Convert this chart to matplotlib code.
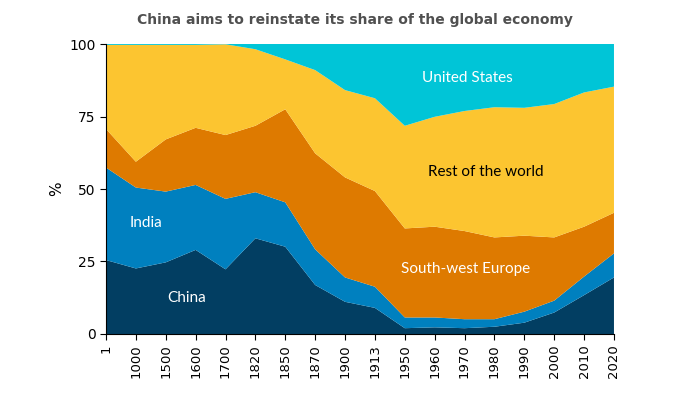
import numpy as np
import matplotlib
matplotlib.use("Agg")
from matplotlib import pyplot as plt

years = ["1", "1000", "1500", "1600", "1700", "1820", "1850", "1870", "1900", "1913",
         "1950", "1960", "1970", "1980", "1990", "2000", "2010", "2020"]

# cumulative tops (%)
china_top = [25.5, 22.6, 24.7, 29.0, 22.3, 33.0, 30.1, 16.9, 11.1, 9.0,
             2.0, 2.3, 2.0, 2.5, 3.9, 7.4, 13.4, 19.5]
india_top = [57.4, 50.5, 49.1, 51.4, 46.6, 48.9, 45.4, 29.2, 19.5, 16.3,
             5.7, 5.7, 5.1, 5.1, 7.7, 11.5, 19.8, 27.8]
swe_top = [70.7, 59.4, 67.1, 71.1, 68.6, 71.8, 77.5, 62.3, 54.0, 49.3,
           36.4, 37.0, 35.5, 33.3, 33.9, 33.3, 37.0, 41.8]
row_top = [99.7, 99.7, 99.7, 99.7, 99.9, 98.2, 94.7, 91.0, 84.1, 81.3,
           71.8, 74.9, 76.9, 78.2, 78.0, 79.3, 83.3, 85.3]

china = np.array(china_top)
india = np.array(india_top) - np.array(china_top)
swe = np.array(swe_top) - np.array(india_top)
row = np.array(row_top) - np.array(swe_top)
us = 100 - np.array(row_top)

colors = ["#023E62", "#0080BF", "#DE7A00", "#FCC530", "#00C5D7"]

fig = plt.figure(figsize=(7, 3.94), dpi=100)
ax = fig.add_axes([0.1514, 0.1523, 0.7257, 0.736])
x = np.arange(len(years))
ax.stackplot(x, china, india, swe, row, us, colors=colors, linewidth=0)

ax.set_xlim(0, len(years) - 1)
ax.set_ylim(0, 100)
ax.set_xticks(x)
ax.set_xticklabels(years, rotation=90, fontsize=9.5)
ax.set_yticks([0, 25, 50, 75, 100])
ax.tick_params(axis="y", labelsize=10, length=4)
ax.tick_params(axis="x", length=4)
ax.spines["top"].set_visible(False)
ax.spines["right"].set_visible(False)
ax.set_ylabel("%", fontsize=11)

lbl = dict(family="Lato", fontsize=11, ha="center", va="center")
ax.text(2.7, 12.5, "China", color="white", **lbl)
ax.text(1.35, 38.4, "India", color="white", **lbl)
ax.text(12.05, 22.3, "South-west Europe", color="white", **lbl)
ax.text(12.7, 55.8, "Rest of the world", color="black", **lbl)
ax.text(12.1, 88.2, "United States", color="white", **lbl)

fig.suptitle("China aims to reinstate its share of the global economy",
             fontsize=10, fontweight="bold", color="#505050", x=0.507, y=0.968)

fig.savefig("out.png", dpi=100)
